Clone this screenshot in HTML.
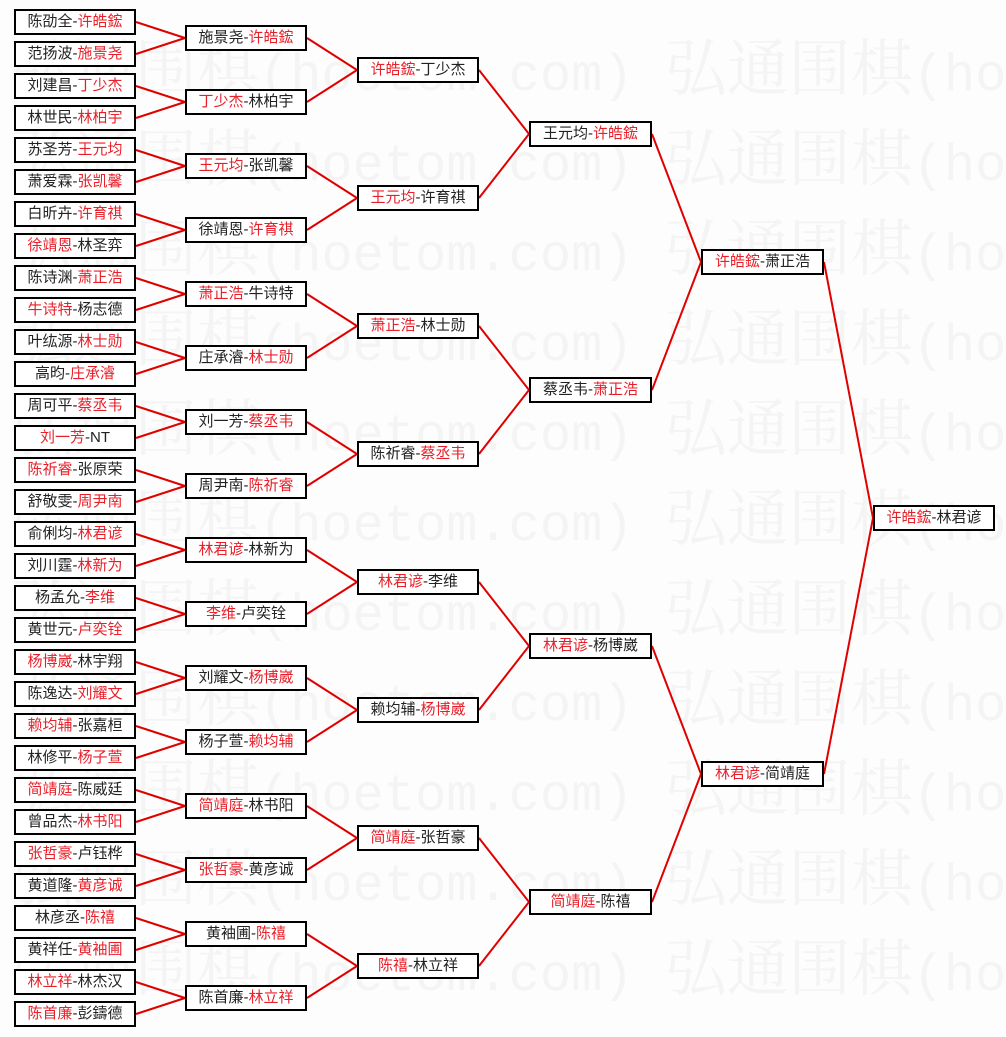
<!DOCTYPE html>
<html><head><meta charset="utf-8"><style>
html,body{margin:0;padding:0;width:1006px;height:1037px;background:#fdfdfd;overflow:hidden;position:relative;font-family:"Liberation Sans","Noto Sans CJK SC","WenQuanYi Zen Hei",sans-serif}
#w{position:absolute;left:0;top:0;width:1006px;height:1037px;overflow:hidden}
.wm{position:absolute;left:11px;height:62px;color:#f4f4f4;white-space:nowrap;line-height:62px;font-size:62px;font-family:"Noto Serif CJK SC",serif}
.wm i{font-style:normal;font-family:"Liberation Mono",monospace;font-size:52px}
.b{position:absolute;width:122px;height:26px;box-sizing:border-box;border:2px solid #000;background:#fff;font-size:15px;line-height:22px;text-align:center;color:#222;white-space:nowrap}
.r{color:#e8202a}
svg{position:absolute;left:0;top:0}
</style></head><body>
<div id="w">
<div class="wm" style="top:33px">弘通围棋<i>(hoetom.com) </i>弘通围棋<i>(ho</i></div>
<div class="wm" style="top:123px">弘通围棋<i>(hoetom.com) </i>弘通围棋<i>(ho</i></div>
<div class="wm" style="top:213px">弘通围棋<i>(hoetom.com) </i>弘通围棋<i>(ho</i></div>
<div class="wm" style="top:303px">弘通围棋<i>(hoetom.com) </i>弘通围棋<i>(ho</i></div>
<div class="wm" style="top:393px">弘通围棋<i>(hoetom.com) </i>弘通围棋<i>(ho</i></div>
<div class="wm" style="top:483px">弘通围棋<i>(hoetom.com) </i>弘通围棋<i>(ho</i></div>
<div class="wm" style="top:573px">弘通围棋<i>(hoetom.com) </i>弘通围棋<i>(ho</i></div>
<div class="wm" style="top:663px">弘通围棋<i>(hoetom.com) </i>弘通围棋<i>(ho</i></div>
<div class="wm" style="top:753px">弘通围棋<i>(hoetom.com) </i>弘通围棋<i>(ho</i></div>
<div class="wm" style="top:843px">弘通围棋<i>(hoetom.com) </i>弘通围棋<i>(ho</i></div>
<div class="wm" style="top:933px">弘通围棋<i>(hoetom.com) </i>弘通围棋<i>(ho</i></div>
</div>

<svg width="1006" height="1037"><path fill="none" stroke="#e00000" stroke-width="2" d="
M136 22L185 38M136 54L185 38M136 86L185 102M136 118L185 102M136 150L185 166M136 182L185 166M136 214L185 230M136 246L185 230
M136 278L185 294M136 310L185 294M136 342L185 358M136 374L185 358M136 406L185 422M136 438L185 422M136 470L185 486M136 502L185 486
M136 534L185 550M136 566L185 550M136 598L185 614M136 630L185 614M136 662L185 678M136 694L185 678M136 726L185 742M136 758L185 742
M136 790L185 806M136 822L185 806M136 854L185 870M136 886L185 870M136 918L185 934M136 950L185 934M136 982L185 998M136 1014L185 998
M307 38L357 70M307 102L357 70M307 166L357 198M307 230L357 198M307 294L357 326M307 358L357 326M307 422L357 454M307 486L357 454
M307 550L357 582M307 614L357 582M307 678L357 710M307 742L357 710M307 806L357 838M307 870L357 838M307 934L357 966M307 998L357 966
M479 70L529 134M479 198L529 134M479 326L529 390M479 454L529 390M479 582L529 646M479 710L529 646M479 838L529 902M479 966L529 902
M652 134L701 262M652 390L701 262M652 646L701 774M652 902L701 774
M824 262L873 518M824 774L873 518"/></svg>

<div class="b" style="left:14px;top:9px">陈劭全-<span class="r">许皓鋐</span></div>
<div class="b" style="left:14px;top:41px">范扬波-<span class="r">施景尧</span></div>
<div class="b" style="left:14px;top:73px">刘建昌-<span class="r">丁少杰</span></div>
<div class="b" style="left:14px;top:105px">林世民-<span class="r">林柏宇</span></div>
<div class="b" style="left:14px;top:137px">苏圣芳-<span class="r">王元均</span></div>
<div class="b" style="left:14px;top:169px">萧爱霖-<span class="r">张凯馨</span></div>
<div class="b" style="left:14px;top:201px">白昕卉-<span class="r">许育祺</span></div>
<div class="b" style="left:14px;top:233px"><span class="r">徐靖恩</span>-林圣弈</div>
<div class="b" style="left:14px;top:265px">陈诗渊-<span class="r">萧正浩</span></div>
<div class="b" style="left:14px;top:297px"><span class="r">牛诗特</span>-杨志德</div>
<div class="b" style="left:14px;top:329px">叶纮源-<span class="r">林士勋</span></div>
<div class="b" style="left:14px;top:361px">高昀-<span class="r">庄承濬</span></div>
<div class="b" style="left:14px;top:393px">周可平-<span class="r">蔡丞韦</span></div>
<div class="b" style="left:14px;top:425px"><span class="r">刘一芳</span>-NT</div>
<div class="b" style="left:14px;top:457px"><span class="r">陈祈睿</span>-张原荣</div>
<div class="b" style="left:14px;top:489px">舒敬雯-<span class="r">周尹南</span></div>
<div class="b" style="left:14px;top:521px">俞俐均-<span class="r">林君谚</span></div>
<div class="b" style="left:14px;top:553px">刘川霆-<span class="r">林新为</span></div>
<div class="b" style="left:14px;top:585px">杨孟允-<span class="r">李维</span></div>
<div class="b" style="left:14px;top:617px">黄世元-<span class="r">卢奕铨</span></div>
<div class="b" style="left:14px;top:649px"><span class="r">杨博崴</span>-林宇翔</div>
<div class="b" style="left:14px;top:681px">陈逸达-<span class="r">刘耀文</span></div>
<div class="b" style="left:14px;top:713px"><span class="r">赖均辅</span>-张嘉桓</div>
<div class="b" style="left:14px;top:745px">林修平-<span class="r">杨子萱</span></div>
<div class="b" style="left:14px;top:777px"><span class="r">简靖庭</span>-陈威廷</div>
<div class="b" style="left:14px;top:809px">曾品杰-<span class="r">林书阳</span></div>
<div class="b" style="left:14px;top:841px"><span class="r">张哲豪</span>-卢钰桦</div>
<div class="b" style="left:14px;top:873px">黄道隆-<span class="r">黄彦诚</span></div>
<div class="b" style="left:14px;top:905px">林彦丞-<span class="r">陈禧</span></div>
<div class="b" style="left:14px;top:937px">黄祥任-<span class="r">黄袖圃</span></div>
<div class="b" style="left:14px;top:969px"><span class="r">林立祥</span>-林杰汉</div>
<div class="b" style="left:14px;top:1001px"><span class="r">陈首廉</span>-彭鑄德</div>

<div class="b" style="left:185px;top:25px">施景尧-<span class="r">许皓鋐</span></div>
<div class="b" style="left:185px;top:89px"><span class="r">丁少杰</span>-林柏宇</div>
<div class="b" style="left:185px;top:153px"><span class="r">王元均</span>-张凯馨</div>
<div class="b" style="left:185px;top:217px">徐靖恩-<span class="r">许育祺</span></div>
<div class="b" style="left:185px;top:281px"><span class="r">萧正浩</span>-牛诗特</div>
<div class="b" style="left:185px;top:345px">庄承濬-<span class="r">林士勋</span></div>
<div class="b" style="left:185px;top:409px">刘一芳-<span class="r">蔡丞韦</span></div>
<div class="b" style="left:185px;top:473px">周尹南-<span class="r">陈祈睿</span></div>
<div class="b" style="left:185px;top:537px"><span class="r">林君谚</span>-林新为</div>
<div class="b" style="left:185px;top:601px"><span class="r">李维</span>-卢奕铨</div>
<div class="b" style="left:185px;top:665px">刘耀文-<span class="r">杨博崴</span></div>
<div class="b" style="left:185px;top:729px">杨子萱-<span class="r">赖均辅</span></div>
<div class="b" style="left:185px;top:793px"><span class="r">简靖庭</span>-林书阳</div>
<div class="b" style="left:185px;top:857px"><span class="r">张哲豪</span>-黄彦诚</div>
<div class="b" style="left:185px;top:921px">黄袖圃-<span class="r">陈禧</span></div>
<div class="b" style="left:185px;top:985px">陈首廉-<span class="r">林立祥</span></div>

<div class="b" style="left:357px;top:57px"><span class="r">许皓鋐</span>-丁少杰</div>
<div class="b" style="left:357px;top:185px"><span class="r">王元均</span>-许育祺</div>
<div class="b" style="left:357px;top:313px"><span class="r">萧正浩</span>-林士勋</div>
<div class="b" style="left:357px;top:441px">陈祈睿-<span class="r">蔡丞韦</span></div>
<div class="b" style="left:357px;top:569px"><span class="r">林君谚</span>-李维</div>
<div class="b" style="left:357px;top:697px">赖均辅-<span class="r">杨博崴</span></div>
<div class="b" style="left:357px;top:825px"><span class="r">简靖庭</span>-张哲豪</div>
<div class="b" style="left:357px;top:953px"><span class="r">陈禧</span>-林立祥</div>

<div class="b" style="left:529px;top:121px;width:123px">王元均-<span class="r">许皓鋐</span></div>
<div class="b" style="left:529px;top:377px;width:123px">蔡丞韦-<span class="r">萧正浩</span></div>
<div class="b" style="left:529px;top:633px;width:123px"><span class="r">林君谚</span>-杨博崴</div>
<div class="b" style="left:529px;top:889px;width:123px"><span class="r">简靖庭</span>-陈禧</div>

<div class="b" style="left:701px;top:249px;width:123px"><span class="r">许皓鋐</span>-萧正浩</div>
<div class="b" style="left:701px;top:761px;width:123px"><span class="r">林君谚</span>-简靖庭</div>

<div class="b" style="left:873px;top:505px"><span class="r">许皓鋐</span>-林君谚</div>
</body></html>
